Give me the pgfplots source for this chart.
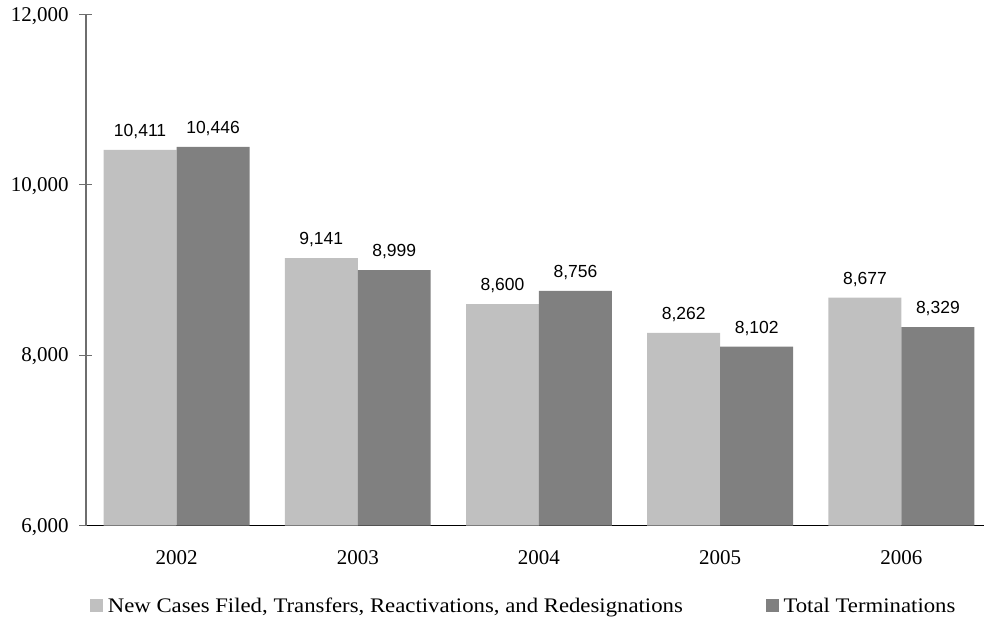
\documentclass[border=0pt]{standalone}
\usepackage{fontspec}
\setmainfont{Liberation Serif}
\newfontfamily\tickfont{Liberation Serif}
\newfontfamily\legfont[FakeStretch=1.1]{Liberation Serif}
\newfontfamily\valfont{Liberation Sans}
\usepackage{pgfplots}
\pgfplotsset{compat=1.18}
\definecolor{lightbar}{RGB}{192,192,192}
\definecolor{darkbar}{RGB}{128,128,128}
\definecolor{axgray}{RGB}{110,110,110}
\begin{document}
\begin{tikzpicture}
\begin{axis}[
  scale only axis, width=899pt, height=511.5pt,
  ybar=0pt, bar width=73pt,
  xmin=-0.5, xmax=4.458, ymin=6000, ymax=12000,
  xtick=data, xticklabels={2002,2003,2004,2005,2006},
  ytick={6000,8000,10000,12000},
  scaled y ticks=false,
  axis x line*=bottom, axis y line*=left,
  x axis line style={black, line width=1.2pt, -},
  y axis line style={axgray, line width=1.2pt, -},
  tick align=center, major tick length=13pt,
  xtick style={draw=none},
  ytick style={axgray, line width=1.2pt},
  /pgf/number format/1000 sep={,},
  /pgf/number format/assume math mode=true,
  xticklabel style={font=\fontsize{21}{24}\tickfont, inner sep=0pt, anchor=base, yshift=-32pt},
  yticklabel style={font=\fontsize{21}{24}\tickfont, inner sep=0pt, anchor=base east, xshift=-10.7pt, yshift=-6.7pt,
     /pgf/number format/fixed},
  nodes near coords,
  every node near coord/.append style={font=\fontsize{17.5}{20}\valfont, anchor=base, yshift=13.5pt, black,
     /pgf/number format/fixed, /pgf/number format/1000 sep={,}, /pgf/number format/assume math mode=true},
  legend columns=2,
  legend image code/.code={\fill[#1] (0pt,-6.5pt) rectangle (13pt,6.5pt);},
  legend style={draw=none, fill=none, inner sep=0pt, outer sep=0pt,
     font=\fontsize{20.7}{24}\legfont,
     at={([xshift=4pt,yshift=-80.3pt]axis description cs:0,0)}, anchor=west,
     nodes={inner sep=0pt},
     /tikz/every odd column/.append style={column sep=5pt}},
]
\addplot[draw=none, fill=lightbar] coordinates {(0,10411) (1,9141) (2,8600) (3,8262) (4,8677)};
\addlegendentry{\makebox[658pt][l]{New Cases Filed, Transfers, Reactivations, and Redesignations}}
\addplot[draw=none, fill=darkbar] coordinates {(0,10446) (1,8999) (2,8756) (3,8102) (4,8329)};
\addlegendentry{Total Terminations}
\end{axis}
\path ([xshift=-86pt,yshift=-96pt]current axis.south west) rectangle ([yshift=14.5pt]current axis.north east);
\end{tikzpicture}
\end{document}
